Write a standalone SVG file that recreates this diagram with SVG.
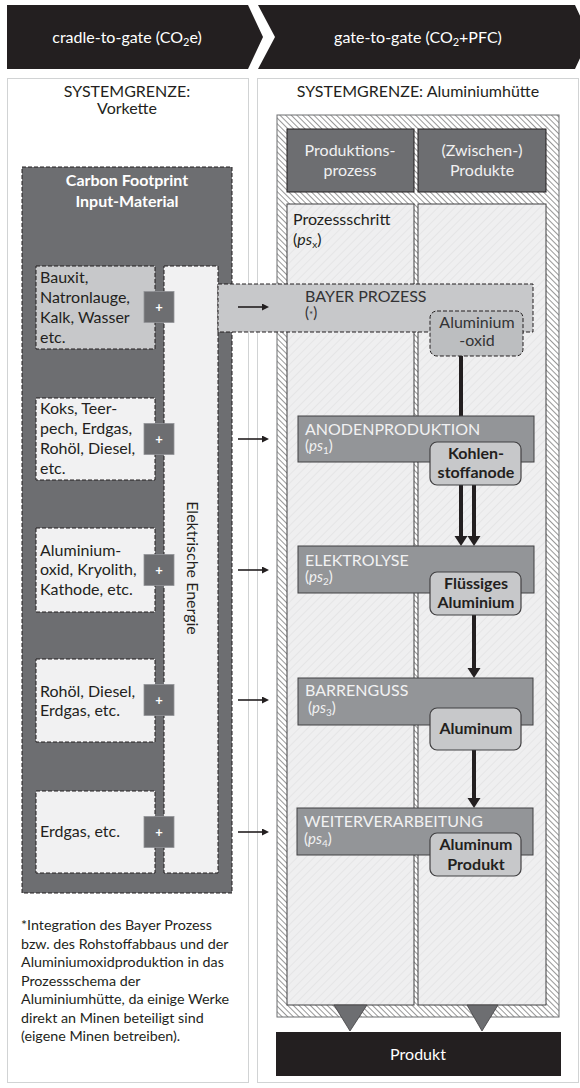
<svg xmlns="http://www.w3.org/2000/svg" width="580" height="1088" viewBox="0 0 580 1088">
<defs>
<style>
text{font-family:Lato,"Liberation Sans",sans-serif;fill:#231f20;font-size:16px}
.hw{fill:#ffffff}
.lt{fill:#f1f1f2}
.b{font-weight:bold}
.m{text-anchor:middle}
.dk{fill:#333335}
.sm{font-size:15px}
.inbox{fill:#f1f1f2;stroke:#231f20;stroke-width:1;stroke-dasharray:4 2}
.plus{fill:#6d6e71;stroke:#939598;stroke-width:0.8}
.bar{fill:#939598;stroke:#414042;stroke-width:1}
.prod{fill:#c7c8ca;stroke:#414042;stroke-width:1.2}
.thick{stroke:#231f20;stroke-width:4;fill:none}
.thin{stroke:#231f20;stroke-width:1.6;fill:none}
.pl{fill:#ffffff;font-weight:bold;font-size:13px;text-anchor:middle}
.fn{font-size:14.3px}
</style>
<pattern id="hatchFrame" width="4" height="4" patternUnits="userSpaceOnUse" patternTransform="rotate(-45)">
<rect width="4" height="4" fill="#ffffff"/>
<line x1="0" y1="0" x2="0" y2="4" stroke="#858585" stroke-width="1.7"/>
</pattern>
<pattern id="hatchCol" width="6" height="6" patternUnits="userSpaceOnUse" patternTransform="rotate(45)">
<rect width="6" height="6" fill="#efeff0"/>
<line x1="0" y1="0" x2="0" y2="6" stroke="#e2e2e3" stroke-width="1.5"/>
</pattern>
<marker id="bigHead" markerUnits="userSpaceOnUse" markerWidth="14" markerHeight="14" refX="0" refY="6.5" orient="auto">
<path d="M0,0 L10,6.5 L0,13 z" fill="#231f20"/>
</marker>
<marker id="smallHead" markerUnits="userSpaceOnUse" markerWidth="8" markerHeight="8" refX="0" refY="3.5" orient="auto">
<path d="M0,0 L7,3.5 L0,7 z" fill="#231f20"/>
</marker>
</defs>

<g id="header">
<polygon points="7,5 248,5 263,37 248,69 7,69" fill="#231f20"/>
<polygon points="258,5 575,5 590,37 575,69 258,69 275,37" fill="#231f20"/>
<text class="hw m" x="127" y="43">cradle-to-gate (CO<tspan font-size="11" dy="3">2</tspan><tspan dy="-3">e)</tspan></text>
<text class="hw m" x="418" y="43">gate-to-gate (CO<tspan font-size="11" dy="3">2</tspan><tspan dy="-3">+PFC)</tspan></text>
</g>

<g id="panel-left">
<rect x="7.5" y="78.5" width="241" height="1004" fill="#ffffff" stroke="#d1d3d4"/>
<text class="m" x="127" y="97">SYSTEMGRENZE:</text>
<text class="m" x="127" y="114">Vorkette</text>
</g>
<g id="panel-right">
<rect x="257.5" y="78.5" width="321" height="1004" fill="#ffffff" stroke="#d1d3d4"/>
<text class="m" x="418" y="97">SYSTEMGRENZE: Aluminiumhütte</text>
</g>

<g id="carbon-footprint">
<rect x="22" y="167" width="210" height="726" fill="#6d6e71" stroke="#231f20" stroke-dasharray="4 2"/>
<text class="hw b m" x="127" y="186">Carbon Footprint</text>
<text class="hw b m" x="127" y="207">Input-Material</text>
</g>

<g id="elektrische-energie">
<rect x="164" y="266" width="54" height="607" class="inbox"/>
<text transform="translate(187,568) rotate(90)" class="m">Elektrische Energie</text>
</g>

<g id="frame">
<rect x="277" y="115" width="282" height="902" fill="url(#hatchFrame)" stroke="#6d6e71" stroke-width="1"/>
<rect x="287" y="129" width="127" height="63" fill="#6d6e71" stroke="#231f20" stroke-width="1"/>
<rect x="418" y="129" width="128" height="63" fill="#6d6e71" stroke="#231f20" stroke-width="1"/>
<text class="lt m" x="350" y="156">Produktions-</text>
<text class="lt m" x="350" y="176">prozess</text>
<text class="lt m" x="482" y="156">(Zwischen-)</text>
<text class="lt m" x="482" y="176">Produkte</text>
<rect x="287" y="204" width="127" height="801" fill="url(#hatchCol)" stroke="#414042" stroke-width="1"/>
<rect x="418" y="204" width="128" height="801" fill="url(#hatchCol)" stroke="#414042" stroke-width="1"/>
<text x="293" y="225">Prozessschritt</text>
<text x="293" y="245">(<tspan font-style="italic">ps</tspan><tspan font-size="10" dy="3">x</tspan><tspan dy="-3">)</tspan></text>
<polygon points="334,1005 367,1005 350,1031" fill="#6d6e71" stroke="#414042" stroke-width="0.8"/>
<polygon points="467,1005 498,1005 482,1031" fill="#6d6e71" stroke="#414042" stroke-width="0.8"/>
</g>

<g id="input-1">
<rect x="36" y="266" width="119" height="83" class="inbox" style="fill:#c7c8ca"/>
<text x="40" y="283">Bauxit,</text>
<text x="40" y="303">Natronlauge,</text>
<text x="40" y="323">Kalk, Wasser</text>
<text x="40" y="343">etc.</text>
</g>
<g id="input-2">
<rect x="36" y="398" width="119" height="82" class="inbox"/>
<text x="40" y="414">Koks, Teer-</text>
<text x="40" y="434">pech, Erdgas,</text>
<text x="40" y="454">Rohöl, Diesel,</text>
<text x="40" y="474">etc.</text>
</g>
<g id="input-3">
<rect x="36" y="528" width="119" height="84" class="inbox"/>
<text x="40" y="556">Aluminium-</text>
<text x="40" y="575">oxid, Kryolith,</text>
<text x="40" y="595">Kathode, etc.</text>
</g>
<g id="input-4">
<rect x="36" y="659" width="119" height="83" class="inbox"/>
<text x="40" y="697">Rohöl, Diesel,</text>
<text x="40" y="716">Erdgas, etc.</text>
</g>
<g id="input-5">
<rect x="36" y="791" width="119" height="82" class="inbox"/>
<text x="40" y="837">Erdgas, etc.</text>
</g>

<g id="bayer-prozess">
<rect x="218" y="284" width="315" height="48" fill="#c7c8ca" stroke="#231f20" stroke-dasharray="4 2"/>
<text class="dk" x="305" y="302">BAYER PROZESS</text>
<text class="dk sm" x="305" y="318">(<tspan font-size="10">*</tspan>)</text>
</g>

<g id="aluminiumoxid">
<rect x="430" y="311" width="93" height="45" rx="7" fill="#bcbec0" stroke="#231f20" stroke-dasharray="4 2"/>
<text class="m dk" x="477" y="328">Aluminium</text>
<text class="m dk" x="477" y="346">-oxid</text>
</g>

<g id="plus-boxes">
<rect x="144" y="291.5" width="30" height="31" class="plus"/>
<rect x="144" y="423.5" width="30" height="31" class="plus"/>
<rect x="144" y="554.5" width="30" height="31" class="plus"/>
<rect x="144" y="684.5" width="30" height="31" class="plus"/>
<rect x="144" y="816.5" width="30" height="31" class="plus"/>
<text class="pl" x="159" y="312">+</text>
<text class="pl" x="159" y="444">+</text>
<text class="pl" x="159" y="575">+</text>
<text class="pl" x="159" y="705">+</text>
<text class="pl" x="159" y="837">+</text>
</g>

<g id="connectors">
<line x1="238" y1="307" x2="262" y2="307" class="thin" marker-end="url(#smallHead)"/>
<line x1="238" y1="439" x2="262" y2="439" class="thin" marker-end="url(#smallHead)"/>
<line x1="238" y1="570" x2="262" y2="570" class="thin" marker-end="url(#smallHead)"/>
<line x1="238" y1="700" x2="262" y2="700" class="thin" marker-end="url(#smallHead)"/>
<line x1="238" y1="832" x2="262" y2="832" class="thin" marker-end="url(#smallHead)"/>
<line x1="461" y1="356" x2="461" y2="417" class="thick"/>
<line x1="461" y1="485" x2="461" y2="536" class="thick" marker-end="url(#bigHead)"/>
<line x1="474" y1="485" x2="474" y2="536" class="thick" marker-end="url(#bigHead)"/>
<line x1="474" y1="615" x2="474" y2="668" class="thick" marker-end="url(#bigHead)"/>
<line x1="474" y1="750" x2="474" y2="798" class="thick" marker-end="url(#bigHead)"/>
</g>

<g id="anodenproduktion">
<rect x="298" y="416" width="236" height="46" class="bar"/>
<text class="lt" x="305" y="435">ANODENPRODUKTION</text>
<text class="lt sm" x="305" y="451">(<tspan font-style="italic">ps</tspan><tspan font-size="10" dy="3">1</tspan><tspan dy="-3">)</tspan></text>
</g>
<g id="kohlenstoffanode">
<rect x="430" y="442" width="91" height="43" rx="7" class="prod"/>
<text class="b m" x="476" y="459">Kohlen-</text>
<text class="b m" x="476" y="478">stoffanode</text>
</g>

<g id="elektrolyse">
<rect x="298" y="546" width="236" height="47" class="bar"/>
<text class="lt" x="305" y="566">ELEKTROLYSE</text>
<text class="lt sm" x="305" y="582">(<tspan font-style="italic">ps</tspan><tspan font-size="10" dy="3">2</tspan><tspan dy="-3">)</tspan></text>
</g>
<g id="fluessiges-aluminium">
<rect x="430" y="572" width="91" height="43" rx="7" class="prod"/>
<text class="b m" x="476" y="589">Flüssiges</text>
<text class="b m" x="476" y="608">Aluminium</text>
</g>

<g id="barrenguss">
<rect x="298" y="678" width="235" height="47" class="bar"/>
<text class="lt" x="305" y="696">BARRENGUSS</text>
<text class="lt sm" x="308" y="713">(<tspan font-style="italic">ps</tspan><tspan font-size="10" dy="3">3</tspan><tspan dy="-3">)</tspan></text>
</g>
<g id="aluminum">
<rect x="430" y="708" width="91" height="42" rx="7" class="prod"/>
<text class="b m" x="476" y="734">Aluminum</text>
</g>

<g id="weiterverarbeitung">
<rect x="297" y="808" width="236" height="47" class="bar"/>
<text class="lt" x="304" y="827">WEITERVERARBEITUNG</text>
<text class="lt sm" x="304" y="844">(<tspan font-style="italic">ps</tspan><tspan font-size="10" dy="3">4</tspan><tspan dy="-3">)</tspan></text>
</g>
<g id="aluminum-produkt">
<rect x="430" y="833" width="91" height="43" rx="7" class="prod"/>
<text class="b m" x="476" y="850">Aluminum</text>
<text class="b m" x="476" y="870">Produkt</text>
</g>

<g id="produkt">
<rect x="276" y="1032" width="285" height="44" fill="#231f20"/>
<text class="hw m" x="418" y="1060">Produkt</text>
</g>

<g id="footnote">
<text class="fn" x="21" y="930">*Integration des Bayer Prozess</text>
<text class="fn" x="21" y="948.5">bzw. des Rohstoffabbaus und der</text>
<text class="fn" x="21" y="967">Aluminiumoxidproduktion in das</text>
<text class="fn" x="21" y="985.5">Prozessschema der</text>
<text class="fn" x="21" y="1004">Aluminiumhütte, da einige Werke</text>
<text class="fn" x="21" y="1022.5">direkt an Minen beteiligt sind</text>
<text class="fn" x="21" y="1041">(eigene Minen betreiben).</text>
</g>
</svg>
